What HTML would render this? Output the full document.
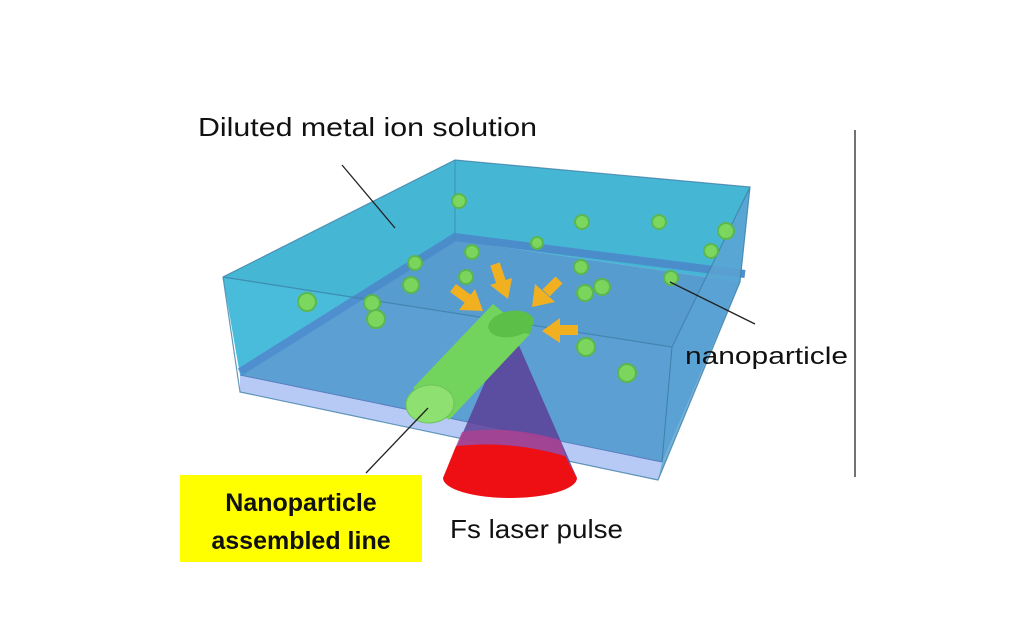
<!DOCTYPE html>
<html><head><meta charset="utf-8"><style>
html,body{margin:0;padding:0;background:#fff;width:1024px;height:640px;overflow:hidden}
svg{display:block}
text{font-family:"Liberation Sans",sans-serif;fill:#111}
</style></head><body>
<svg width="1024" height="640" viewBox="0 0 1024 640" xmlns="http://www.w3.org/2000/svg">
<polygon points="455,160 750,187 740,282 455,240" fill="#48bcda"/>
<polygon points="223,277 455,160 455,240 240,375" fill="#48bcda"/>
<polygon points="455,240 740,282 662,462 240,375" fill="#5b9fd3"/>
<polyline points="240,372 455,237 745,274" fill="none" stroke="#4f8ecf" stroke-width="8"/>
<polygon points="223,277 455,160 750,187 672,347" fill="#2a7fa8" opacity="0.08"/>
<polygon points="240,375 662,462 658,480 240,392" fill="#b6caf5"/>
<polygon points="672,347 750,187 740,282 658,480 662,462" fill="#5aa2d2" opacity="0.85"/>
<polyline points="223,277 672,347 750,187 455,160 223,277 240,392 658,480 740,282 750,187" fill="none" stroke="#3f7fa8" stroke-width="1.2" opacity="0.8"/>
<line x1="455" y1="160" x2="455" y2="240" stroke="#3f8fb0" stroke-width="1"/>
<line x1="672" y1="347" x2="662" y2="462" stroke="#3f7fa8" stroke-width="1"/>
<line x1="240" y1="375" x2="662" y2="462" stroke="#5a7fc0" stroke-width="1"/>
<g fill="#7ed957" stroke="#5cb84a" stroke-width="2" opacity="0.95">
<circle cx="459" cy="201" r="7"/><circle cx="582" cy="222" r="7"/><circle cx="659" cy="222" r="7"/>
<circle cx="726" cy="231" r="8"/><circle cx="711" cy="251" r="7"/><circle cx="537" cy="243" r="6"/>
<circle cx="472" cy="252" r="7"/><circle cx="415" cy="263" r="7"/><circle cx="466" cy="277" r="7"/>
<circle cx="581" cy="267" r="7"/><circle cx="411" cy="285" r="8"/><circle cx="671" cy="278" r="7"/>
<circle cx="585" cy="293" r="8"/><circle cx="602" cy="287" r="8"/><circle cx="307" cy="302" r="9"/>
<circle cx="372" cy="303" r="8"/><circle cx="376" cy="319" r="9"/><circle cx="586" cy="347" r="9"/>
<circle cx="627" cy="373" r="9"/>
</g>
<!-- cone -->
<polygon points="510,325 443,478 577,478" fill="#5c3f98" opacity="0.85"/>
<path d="M443,478 L456,446 Q510,440 565,456 L577,478 A67,20 0 0 1 443,478 Z" fill="#ee0f14"/>
<path d="M456,446 Q510,440 565,456 L560,440 Q510,425 462,432 Z" fill="#b04090" opacity="0.8"/>
<!-- cylinder -->
<polygon points="413,388 493,304 530,334 449,420" fill="#72d45c"/>
<path d="M488,328 A23,14 -10 0 1 533,322 L530,334 Z" fill="#5cbf48"/>
<ellipse cx="511" cy="324" rx="23" ry="13" transform="rotate(-10 511 324)" fill="#5cbf48"/>
<ellipse cx="430" cy="404" rx="24" ry="19" transform="rotate(-5 430 404)" fill="#8ee070" stroke="#6cc45a" stroke-width="1"/>
<!-- arrows -->
<g stroke="#f0b020" stroke-width="10">
<line x1="453" y1="288" x2="468" y2="299"/><line x1="495" y1="264" x2="501" y2="282"/>
<line x1="559" y1="280" x2="546" y2="293"/><line x1="578" y1="330" x2="560" y2="330"/>
</g>
<g fill="#f0b020">
<polygon points="483,311 459,310 475,289"/>
<polygon points="508,299 490,285 512,278"/>
<polygon points="532,307 535,284 555,302"/>
<polygon points="542,331 560,318 560,343"/>
</g>
<line x1="342" y1="165" x2="395" y2="228" stroke="#222" stroke-width="1.3"/>
<line x1="670" y1="282" x2="755" y2="324" stroke="#222" stroke-width="1.3"/>
<line x1="366" y1="473" x2="428" y2="408" stroke="#222" stroke-width="1.3"/>
<line x1="855" y1="130" x2="855" y2="477" stroke="#444" stroke-width="1.5"/>
<text x="198" y="136" font-size="26" textLength="339" lengthAdjust="spacingAndGlyphs">Diluted metal ion solution</text>
<text x="685" y="364" font-size="24" textLength="163" lengthAdjust="spacingAndGlyphs">nanoparticle</text>
<rect x="180" y="475" width="242" height="87" fill="#ffff00"/>
<text x="301" y="511" font-size="25" font-weight="bold" text-anchor="middle">Nanoparticle</text>
<text x="301" y="549" font-size="25" font-weight="bold" text-anchor="middle">assembled line</text>
<text x="450" y="538" font-size="26" textLength="173" lengthAdjust="spacingAndGlyphs">Fs laser pulse</text>
</svg>
</body></html>
